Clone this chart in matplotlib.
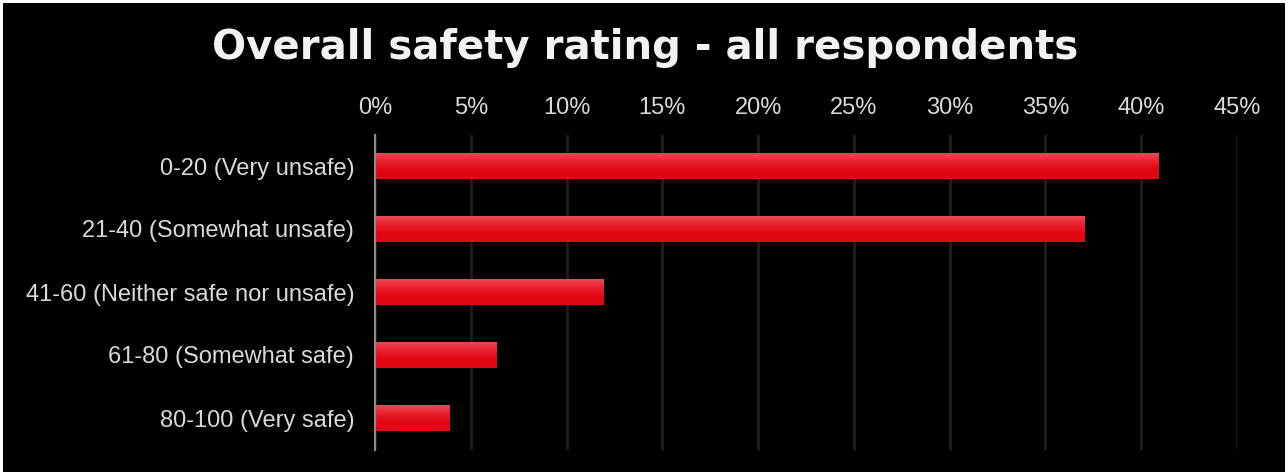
import numpy as np
import matplotlib.pyplot as plt
from matplotlib.patches import Rectangle
from matplotlib.colors import LinearSegmentedColormap
from matplotlib.ticker import PercentFormatter

plt.rcParams['font.family'] = ['Liberation Sans', 'DejaVu Sans']

categories = ["0-20 (Very unsafe)", "21-40 (Somewhat unsafe)",
              "41-60 (Neither safe nor unsafe)", "61-80 (Somewhat safe)",
              "80-100 (Very safe)"]
shares = [40.9, 37.05, 11.95, 6.35, 3.9]
x_ticks = [0, 5, 10, 15, 20, 25, 30, 35, 40, 45]

fig = plt.figure(figsize=(12.88, 4.75), dpi=100, facecolor="white")
# black panel inside a thin white frame
fig.patches.append(Rectangle((3 / 1288, 3 / 475), 1 - 6 / 1288, 1 - 6 / 475,
                             transform=fig.transFigure, facecolor="black",
                             edgecolor="none", zorder=-5))

ax = fig.add_axes([375 / 1288, 1 - 449.5 / 475, 862 / 1288, 315 / 475])
ax.set_facecolor("black")

y = np.arange(len(categories))
bars = ax.barh(y, shares, height=0.41, color="#e30613", zorder=3)

# vertical gradient on each bar (lighter on top)
cmap = LinearSegmentedColormap.from_list("redgrad", ["#ec4a55", "#e8202e", "#e30613", "#e00a17"])
grad = np.linspace(1, 0, 100).reshape(-1, 1)
for b in bars:
    x0, y0, w, h = b.get_x(), b.get_y(), b.get_width(), b.get_height()
    im = ax.imshow(grad, cmap=cmap, aspect="auto", extent=(x0, x0 + w, y0 + h, y0),
                   origin="lower", zorder=4)
    im.set_clip_path(b)

ax.set_xlim(0, 45)
ax.set_ylim(len(categories) - 0.5, -0.5)
ax.set_xticks(x_ticks)
ax.xaxis.set_major_formatter(PercentFormatter(decimals=0))
ax.xaxis.tick_top()
ax.set_yticks(y)
ax.set_yticklabels(categories)
ax.tick_params(axis="both", length=0, colors="#d9d9d9", labelsize=17)
ax.tick_params(axis="x", pad=11.5)
ax.tick_params(axis="y", pad=15)

ax.grid(axis="x", color="#1f1f1f", linewidth=2, zorder=1)
for s in ["top", "right", "bottom"]:
    ax.spines[s].set_visible(False)
ax.spines["left"].set_color("#8c8c8c")
ax.spines["left"].set_linewidth(1.5)
ax.spines["left"].set_zorder(5)

fig.text(0.501, 1 - 48 / 475, "Overall safety rating - all respondents",
         ha="center", va="center", color="#f2f2f2", fontsize=29, fontweight="bold",
         family="DejaVu Sans")

fig.savefig("out.png", dpi=100, facecolor=fig.get_facecolor())
